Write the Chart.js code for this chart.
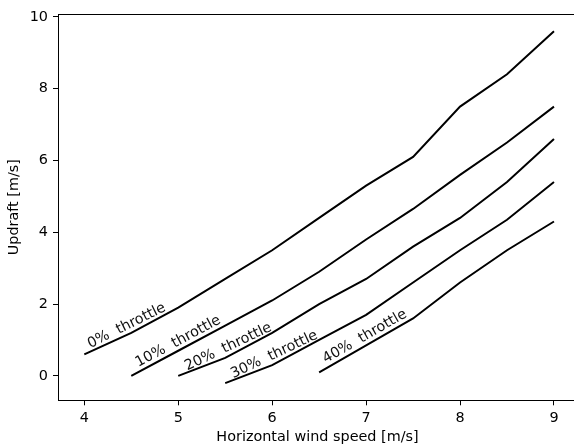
<!DOCTYPE html>
<html>
<head>
<meta charset="utf-8">
<script src="https://cdn.jsdelivr.net/npm/chart.js@4.4.1/dist/chart.umd.min.js"></script>
<style>
  html, body { margin: 0; padding: 0; background: #fff; overflow: hidden; }
  #wrap { position: relative; width: 574px; height: 446px; overflow: hidden; }
  #grafico { display: block; }
</style>
</head>
<body>
<div id="wrap"><canvas id="grafico" width="582" height="446"></canvas></div>
<script>
// Datos
const velocidadViento = [4, 4.5, 5, 5.5, 6, 6.5, 7, 7.5, 8, 8.5, 9];
const throttle0  = [0.6, 1.2, 1.9, 2.7, 3.5, 4.4, 5.3, 6.1, 7.5, 8.4, 9.6];
const throttle10 = [null, 0.0, 0.7, 1.4, 2.1, 2.9, 3.8, 4.65, 5.6, 6.5, 7.5];
const throttle20 = [null, null, 0.0, 0.5, 1.2, 2.0, 2.7, 3.6, 4.4, 5.4, 6.6];
const throttle30 = [null, null, null, -0.2, 0.3, 1.0, 1.7, 2.6, 3.5, 4.35, 5.4];
const throttle40 = [null, null, null, null, null, 0.1, 0.85, 1.6, 2.6, 3.5, 4.3];
const etiquetas = ['0%  throttle', '10%  throttle', '20%  throttle', '30%  throttle', '40%  throttle'];
const posEtiquetas = [4.49, 5.04, 5.57, 6.06, 7.03];
const ticksX = [4, 5, 6, 7, 8, 9];
const ticksY = [0, 2, 4, 6, 8, 10];

const series = [throttle0, throttle10, throttle20, throttle30, throttle40];
const fuente = "'DejaVu Sans', sans-serif";
const tamFuente = 14.4;

function puntos(vals) {
    return velocidadViento.map((x, i) => ({ x: x, y: vals[i] })).filter(p => p.y !== null);
}

function valorEn(pts, x) {
    for (let i = 0; i < pts.length - 1; i++) {
        if (x >= pts[i].x && x <= pts[i + 1].x) {
            const t = (x - pts[i].x) / (pts[i + 1].x - pts[i].x);
            return pts[i].y + t * (pts[i + 1].y - pts[i].y);
        }
    }
    return x < pts[0].x ? pts[0].y : pts[pts.length - 1].y;
}

// Etiquetas sobre las lineas
const etiquetasLinea = {
    id: 'etiquetasLinea',
    afterDatasetsDraw(chart) {
        const ctx = chart.ctx;
        const sx = chart.scales.x, sy = chart.scales.y;
        chart.data.datasets.forEach((ds, i) => {
            const xc = posEtiquetas[i];
            const x1 = xc - 0.35, x2 = xc + 0.35;
            const p1 = { x: sx.getPixelForValue(x1), y: sy.getPixelForValue(valorEn(ds.data, x1)) };
            const p2 = { x: sx.getPixelForValue(x2), y: sy.getPixelForValue(valorEn(ds.data, x2)) };
            const pc = { x: sx.getPixelForValue(xc), y: sy.getPixelForValue(valorEn(ds.data, xc)) };
            const ang = Math.atan2(p2.y - p1.y, p2.x - p1.x);
            ctx.save();
            ctx.translate(pc.x, pc.y);
            ctx.rotate(ang);
            ctx.font = tamFuente + "px " + fuente;
            ctx.fillStyle = '#111';
            ctx.textAlign = 'center';
            ctx.textBaseline = 'alphabetic';
            ctx.fillText(etiquetas[i], 0, -4.5);
            ctx.restore();
        });
    }
};

// Borde superior del area (el derecho queda fuera de la imagen)
const bordeSuperior = {
    id: 'bordeSuperior',
    afterDraw(chart) {
        const a = chart.chartArea;
        const ctx = chart.ctx;
        ctx.save();
        ctx.fillStyle = '#fff';
        ctx.fillRect(a.right - 12, a.top + 1, 20, a.bottom - a.top - 2);
        ctx.strokeStyle = '#000';
        ctx.lineWidth = 1;
        ctx.beginPath();
        ctx.moveTo(a.left, a.top + 0.5);
        ctx.lineTo(a.right + 5, a.top + 0.5);
        ctx.stroke();
        ctx.restore();
    }
};

Chart.defaults.font.family = fuente;
Chart.defaults.font.size = tamFuente;
Chart.defaults.color = '#000';

new Chart(document.getElementById('grafico'), {
    type: 'line',
    data: {
        datasets: series.map((s, i) => ({
            label: etiquetas[i],
            data: puntos(s),
            borderColor: '#000',
            borderWidth: 2,
            pointRadius: 0,
            fill: false,
            tension: 0
        }))
    },
    options: {
        responsive: false,
        animation: false,
        layout: { padding: { top: 14, right: 5, left: 0, bottom: 0 } },
        plugins: { legend: { display: false }, tooltip: { enabled: false } },
        scales: {
            x: {
                type: 'linear',
                min: 3.72,
                max: 9.245,
                afterFit(scale) { scale.height = 45.7; },
                afterBuildTicks(scale) { scale.ticks = ticksX.map(v => ({ value: v })); },
                grid: { drawOnChartArea: false, drawTicks: true, tickLength: 5, tickColor: '#000', tickWidth: 1 },
                border: { display: true, color: '#000', width: 1 },
                ticks: { padding: 4, maxRotation: 0 },
                title: { display: true, text: 'Horizontal wind speed [m/s]', padding: { top: 0, bottom: 0 } }
            },
            y: {
                type: 'linear',
                min: -0.68,
                max: 10.08,
                afterFit(scale) { scale.width = 58; },
                afterBuildTicks(scale) { scale.ticks = ticksY.map(v => ({ value: v })); },
                grid: { drawOnChartArea: false, drawTicks: true, tickLength: 5, tickColor: '#000', tickWidth: 1 },
                border: { display: true, color: '#000', width: 1 },
                ticks: { padding: 5 },
                title: { display: true, text: 'Updraft [m/s]', padding: { top: 6, bottom: 0 } }
            }
        }
    },
    plugins: [etiquetasLinea, bordeSuperior]
});
</script>
</body>
</html>
